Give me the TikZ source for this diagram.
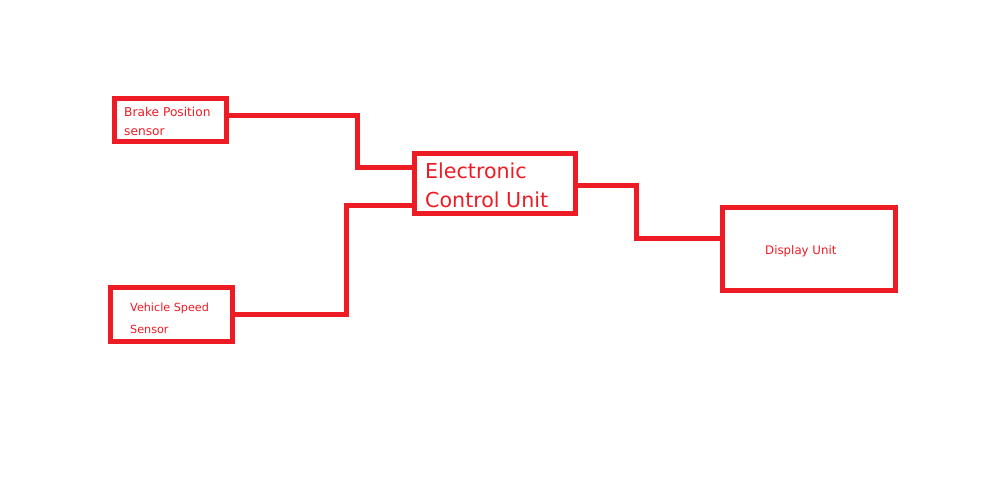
\documentclass[tikz,border=0pt]{standalone}
\usepackage{fontspec}
\setmainfont{DejaVu Sans}
\definecolor{pred}{HTML}{ED1C24}
\begin{document}
\begin{tikzpicture}[x=1pt,y=-1pt,
  blk/.style={draw=pred, line width=5pt, rectangle, inner sep=0pt, outer sep=0pt, fill=white},
  wire/.style={draw=pred, line width=5pt, line join=miter, line cap=rect},
  lbl/.style={text=pred, anchor=base west, inner sep=0pt}]
\fill[white] (0,0) rectangle (1000,482);
\useasboundingbox (0,0) rectangle (1000,482);
% wires first
\coordinate (bp) at (170.5,120);
\node[blk, minimum width=112pt, minimum height=43pt] (brake) at (170.5,120) {};
\node[blk, minimum width=161pt, minimum height=60pt] (ecu) at (495,183.5) {};
\node[blk, minimum width=122pt, minimum height=54pt] (speed) at (171.5,314.5) {};
\node[blk, minimum width=173pt, minimum height=83pt] (disp) at (809,249) {};
\begin{scope}[on background layer/.style={}]
\draw[wire] ([yshift=5pt]brake.east) -- ++(131,0) |- ([yshift=16.5pt]ecu.west);
\draw[wire] (speed.east) -- ++(114,0) |- ([yshift=-21.5pt]ecu.west);
\draw[wire] ([yshift=-1.5pt]ecu.east) -- ++(60.5,0) |- ([yshift=11pt]disp.west);
\end{scope}
% labels
\node[lbl, font=\fontsize{12.2pt}{14pt}\selectfont] (t1) at (124,116.7) {Brake Position};
\node[lbl, font=\fontsize{12.2pt}{14pt}\selectfont] (t2) at (124,135.5) {sensor};
\node[lbl, font=\fontsize{20.6pt}{24pt}\selectfont] (t3) at (425,178) {Electronic};
\node[lbl, font=\fontsize{20.6pt}{24pt}\selectfont] (t4) at (425,207.5) {Control Unit};
\node[lbl, font=\fontsize{11.2pt}{13pt}\selectfont] (t5) at (130,311.5) {Vehicle Speed};
\node[lbl, font=\fontsize{11.2pt}{13pt}\selectfont] (t6) at (130,333) {Sensor};
\node[lbl, font=\fontsize{11.8pt}{14pt}\selectfont] (t7) at (765,254.5) {Display Unit};
\end{tikzpicture}
\end{document}
